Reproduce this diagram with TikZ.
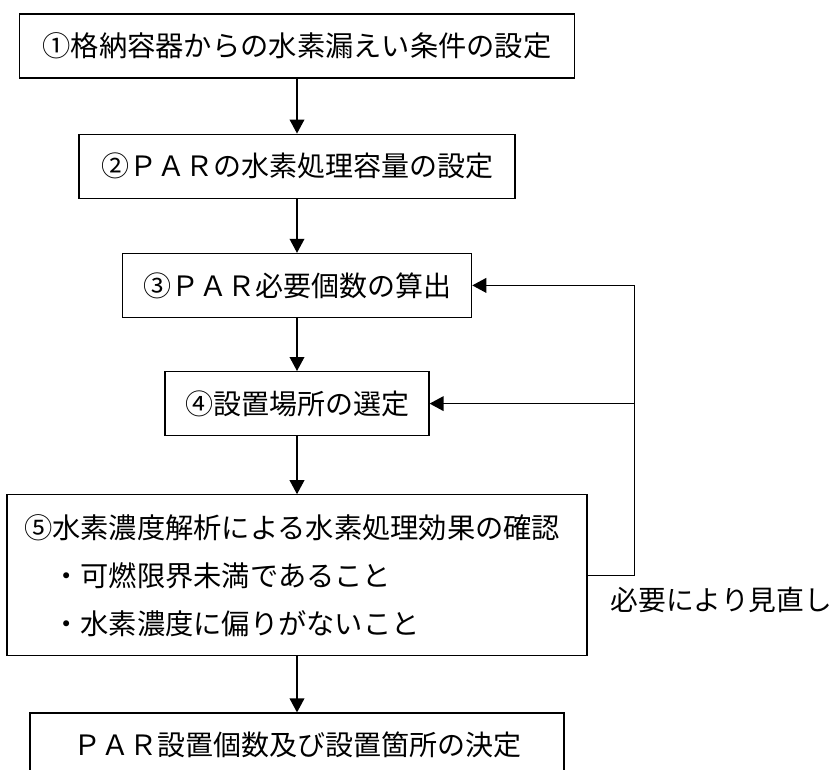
\documentclass[tikz,border=0pt]{standalone}
\usepackage{fontspec}
\setmainfont{Noto Sans CJK JP}
\usetikzlibrary{arrows.meta,positioning}

\begin{document}
\begin{tikzpicture}[
          x=0.75pt, y=-0.75pt,
          node distance=41pt,
          box/.style={rectangle, draw, line width=0.9pt, minimum height=48pt, inner sep=0pt, font=\fontsize{21}{25}\selectfont, align=center},
          arrow/.style={-{Triangle[width=11pt,length=10.5pt]}, line width=1.1pt},
          line/.style={line width=1.1pt}
        ]
          \useasboundingbox (0,0) rectangle (831,769);

          % Step 1: leak condition
          \node[box, minimum width=416pt, font=\fontsize{21.2}{26}\selectfont] (leak) at (297,46) {①格納容器からの水素漏えい条件の設定};

          % Step 2: PAR capacity
          \node[box, minimum width=327pt, below=41.25pt of leak] (capacity) {②ＰＡＲの水素処理容量の設定};

          % Step 3: number of PARs
          \node[box, minimum width=262pt, below=40.5pt of capacity] (count) {③ＰＡＲ必要個数の算出};

          % Step 4: location
          \node[box, minimum width=198pt, below=39.75pt of count] (place) {④設置場所の選定};

          % Step 5: concentration analysis
          \node[box, minimum height=120.75pt, text width=409.5pt, inner xsep=12.75pt, align=left,
                font=\fontsize{21.2}{36}\selectfont, below=43.5pt of place] (check)
                {⑤水素濃度解析による水素処理効果の確認\\　・可燃限界未満であること\\　・水素濃度に偏りがないこと};

          % Result
          \node[box, minimum width=400.5pt, below=42pt of check] (result) {ＰＡＲ設置個数及び設置箇所の決定};

          % Feedback loop
          \path (check.east) ++(47,0) coordinate (loop);
          \node[anchor=west, font=\fontsize{20.8}{25}\selectfont] (review) at (606,600) {必要により見直し};

          % Arrows - main flow
          \draw[arrow] (leak) -- (capacity);
          \draw[arrow] (capacity) -- (count);
          \draw[arrow] (count) -- (place);
          \draw[arrow] (place) -- (check);
          \draw[arrow] (check) -- (result);

          % Arrows - review
          \draw[line] (check.east) -- (loop);
          \draw[arrow] (loop) |- (count.east);
          \draw[arrow] (loop |- place.east) -- (place.east);

        \end{tikzpicture}
\end{document}
